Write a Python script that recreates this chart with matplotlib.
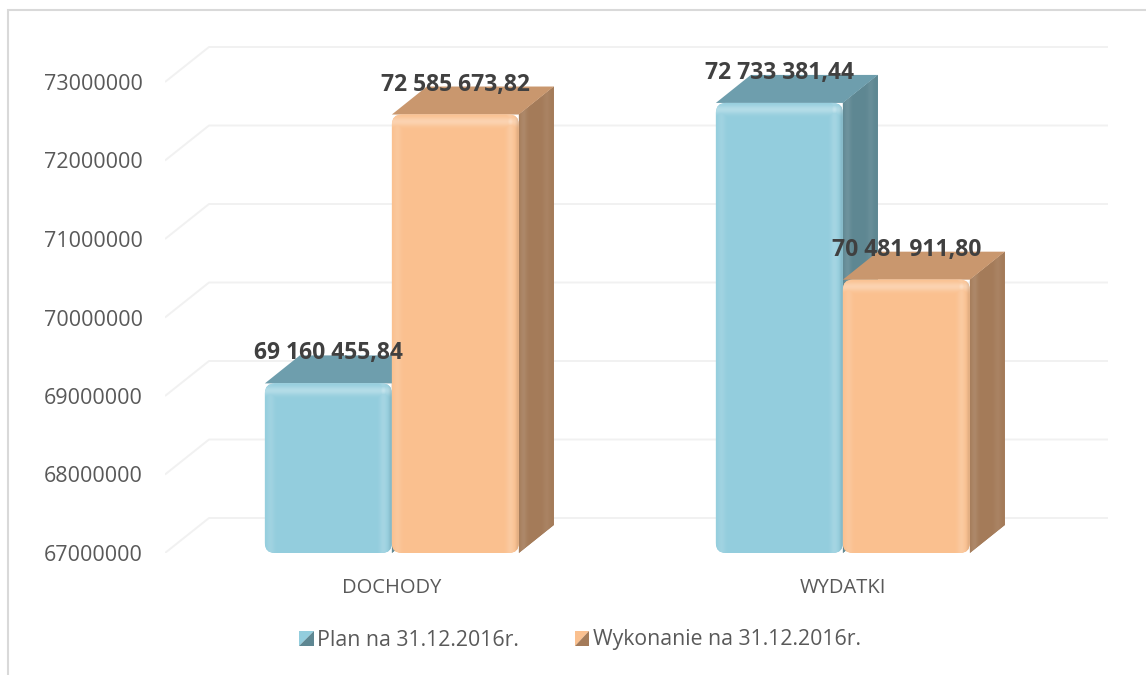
import numpy as np
import matplotlib
matplotlib.use("Agg")
import matplotlib.pyplot as plt
from matplotlib.patches import Polygon, FancyBboxPatch, Rectangle
from matplotlib.legend_handler import HandlerBase
import matplotlib.colors as mcolors

# ---------------- data ----------------
categories = ["DOCHODY", "WYDATKI"]
series_names = ["Plan na 31.12.2016r.", "Wykonanie na 31.12.2016r."]
plan_values = [69160455.84, 72733381.44]
wykonanie_values = [72585673.82, 70481911.80]
value_labels_plan = ["69 160 455,84", "72 733 381,44"]
value_labels_wyk = ["72 585 673,82", "70 481 911,80"]
y_ticks = [67000000, 68000000, 69000000, 70000000, 71000000, 72000000, 73000000]

# ---------------- style ----------------
W, H = 1146, 675
DPI = 100
FONT = "Open Sans"
TXT = "#595959"
front_cols = ["#93CDDD", "#FAC08F"]
top_cols = ["#6E9EAD", "#C9976E"]
side_cols = ["#5E8792", "#A47B59"]

fig = plt.figure(figsize=(W / DPI, H / DPI), dpi=DPI)
fig.patch.set_facecolor("white")

# axes placed in pixel geometry of the front plane
ax_l, ax_r, ax_b, ax_t = 165, 1113, 553, 35
ax = fig.add_axes([ax_l / W, 1 - ax_b / H, (ax_r - ax_l) / W, (ax_b - ax_t) / H])
xlim = (-0.503, 1.599)
ppy = 78.5e-6  # pixels per unit value
ylim = (y_ticks[0], y_ticks[0] + (ax_b - ax_t) / ppy)
ax.set_xlim(*xlim)
ax.set_ylim(*ylim)
ppx = (ax_r - ax_l) / (xlim[1] - xlim[0])

def px2dx(p):
    return p / ppx

def px2dy(p):
    return p / ppy

for s in ax.spines.values():
    s.set_visible(False)
ax.set_facecolor("none")

# outer chart border (top & left visible)
fig.add_artist(Rectangle((8 / W, -0.1), 1.2, 1 - 10 / H + 0.1, transform=fig.transFigure,
                         fill=False, edgecolor="#D9D9D9", linewidth=1.5, zorder=0))

# back wall gridlines
wdx, wdy = px2dx(44), px2dy(35)
x_wall_right = xlim[0] + px2dx(1108 - ax_l)
for t in y_ticks:
    ax.plot([xlim[0], xlim[0] + wdx, x_wall_right], [t, t + wdy, t + wdy],
            color="#F1F1F1", linewidth=1.4, zorder=1, solid_capstyle="butt")

# ticks
ax.set_yticks(y_ticks)
ax.set_yticklabels([str(t) for t in y_ticks])
ax.tick_params(axis="y", length=0, pad=16, labelsize=15.5, labelcolor=TXT)
x_pos = np.arange(len(categories))
ax.set_xticks(x_pos)
ax.set_xticklabels(categories)
ax.tick_params(axis="x", length=0, pad=18, labelsize=14.5, labelcolor=TXT)
for lab in ax.get_xticklabels() + ax.get_yticklabels():
    lab.set_fontfamily(FONT)

# 3D-like bars
bw = px2dx(127)
ddx, ddy = px2dx(35), px2dy(28)
base = y_ticks[0]


def draw_bar(x0, val, k, z):
    x1 = x0 + bw
    # side face
    side = Polygon([(x1, base), (x1 + ddx, base + ddy), (x1 + ddx, val + ddy), (x1, val)],
                   closed=True, facecolor=side_cols[k], edgecolor="none", zorder=z)
    ax.add_patch(side)
    nx = 40
    grad = np.linspace(0, 1, nx)
    img = np.zeros((2, nx, 4))
    sc = np.array(mcolors.to_rgb(side_cols[k]))
    for i, g in enumerate(grad):
        f = 0.10 * np.exp(-((g - 0.12) / 0.10) ** 2) + 0.06 * np.exp(-((g - 0.8) / 0.1) ** 2)
        img[:, i, :3] = sc + (1 - sc) * f
        img[:, i, 3] = 1
    im = ax.imshow(img, extent=(x1, x1 + ddx, base, val + ddy), aspect="auto",
                   zorder=z, interpolation="bilinear")
    im.set_clip_path(side)
    # top face
    top = Polygon([(x0, val), (x0 + ddx, val + ddy), (x1 + ddx, val + ddy), (x1, val)],
                  closed=True, facecolor=top_cols[k], edgecolor="none", zorder=z + 0.1)
    ax.add_patch(top)
    # front face, rounded
    r_px = 10
    front = FancyBboxPatch((x0, base), bw, val - base,
                           boxstyle=f"round,pad=0,rounding_size={px2dx(r_px)}",
                           mutation_aspect=px2dy(r_px) / px2dx(r_px),
                           facecolor=front_cols[k], edgecolor="none", zorder=z + 0.2)
    ax.add_patch(front)
    # bevel highlight on front
    npx_w = 127
    npx_h = max(int(round((val - base) * ppy)), 4)
    fc = np.array(mcolors.to_rgb(front_cols[k]))
    xs = np.arange(npx_w)[None, :].astype(float)
    ys = np.arange(npx_h)[:, None].astype(float)  # 0 at top
    ones = np.ones((npx_h, npx_w))
    rim = 0.30 * np.exp(-((ys - 7) / 4.5) ** 2) * ones
    rim = np.maximum(rim, 0.12 * np.exp(-((xs - 5) / 4.0) ** 2) * ones)
    rim = np.maximum(rim, 0.16 * np.exp(-((xs - (npx_w - 9)) / 4.0) ** 2) * ones)
    spec = 0.45 * np.exp(-(((xs - (npx_w - 9)) / 4.0) ** 2 + ((ys - 7) / 4.0) ** 2))
    rim = np.maximum(rim, spec)
    shade = 0.10 * np.exp(-((xs - (npx_w - 1)) / 2.5) ** 2) * ones
    img2 = np.zeros((npx_h, npx_w, 4))
    for c in range(3):
        img2[:, :, c] = (fc[c] + (1 - fc[c]) * rim) * (1 - shade)
    img2[:, :, 3] = 1
    im2 = ax.imshow(img2, extent=(x0, x1, base, val), aspect="auto", origin="upper",
                    zorder=z + 0.25, interpolation="nearest")
    im2.set_clip_path(front)


for i in range(len(categories)):
    draw_bar(x_pos[i] - bw, plan_values[i], 0, 3 + i * 2)
    draw_bar(x_pos[i], wykonanie_values[i], 1, 4 + i * 2)

# value labels
for i in range(len(categories)):
    for k, (vals, labs) in enumerate([(plan_values, value_labels_plan),
                                      (wykonanie_values, value_labels_wyk)]):
        xc = x_pos[i] - bw / 2 + k * bw
        ax.text(xc, vals[i] + px2dy(30), labs[i], ha="center", va="center",
                fontsize=16.5, fontweight="bold", color="#404040", family=FONT, zorder=20)


# legend with pyramid-style keys
class PyramidHandler(HandlerBase):
    def __init__(self, light, dark):
        super().__init__()
        self.light, self.dark = light, dark

    def create_artists(self, legend, orig_handle, xdescent, ydescent, width, height, fontsize, trans):
        s = min(width, height)
        x0 = -xdescent + width - s
        y0 = -ydescent + (height - s) / 2
        p1 = Polygon([(x0, y0), (x0, y0 + s), (x0 + s, y0 + s)], closed=True,
                     facecolor=self.light, edgecolor="none", transform=trans)
        p2 = Polygon([(x0, y0), (x0 + s, y0), (x0 + s, y0 + s)], closed=True,
                     facecolor=self.dark, edgecolor="none", transform=trans)
        return [p1, p2]


h1 = Rectangle((0, 0), 1, 1)
h2 = Rectangle((0, 0), 1, 1)
leg = fig.legend([h1, h2], series_names, loc="center",
                 bbox_to_anchor=(580 / W, 1 - 640 / H), ncol=2, frameon=False,
                 handler_map={h1: PyramidHandler(front_cols[0], side_cols[0]),
                              h2: PyramidHandler(front_cols[1], side_cols[1])},
                 handlelength=0.7, handleheight=0.7, handletextpad=0.15, columnspacing=2.6,
                 prop={"family": FONT, "size": 15.3})
for t in leg.get_texts():
    t.set_color(TXT)

fig.savefig("out.png", dpi=DPI, facecolor="white")
